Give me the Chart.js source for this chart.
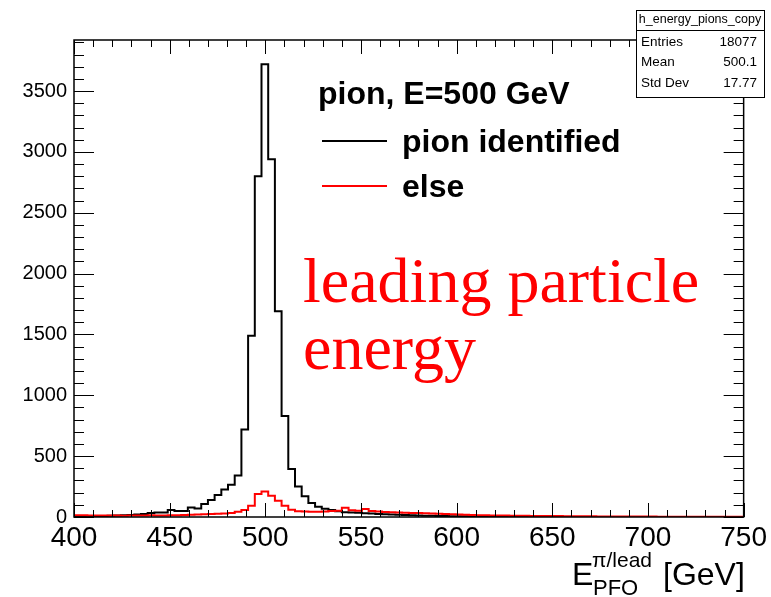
<!DOCTYPE html>
<html>
<head>
<meta charset="utf-8">
<script src="https://cdn.jsdelivr.net/npm/chart.js@4.4.1/dist/chart.umd.min.js"></script>
<style>
html,body{margin:0;padding:0;background:#fff;}
</style>
</head>
<body>
<canvas id="histChart" width="771" height="597"></canvas>
<script>
// binning of h_energy_pions_copy : 100 bins, 400 - 750 GeV
const binLow = 400;
const binWidth = 3.5;
const yMax = 3920;
const yTickValues = [0, 500, 1000, 1500, 2000, 2500, 3000, 3500];
const xTickValues = [400, 450, 500, 550, 600, 650, 700, 750];

// counts per bin
const pionIdentified = [
  3, 4, 5, 6, 8, 10, 12, 14, 16, 20, 24,
  32, 37, 37, 57, 50, 50,
  78, 70, 107, 140, 181, 225, 266,
  342, 720, 1490, 2800, 3720, 2940, 1690, 830, 395,
  250, 170, 115, 85, 68, 58, 48, 40, 38, 35, 30, 28, 25, 22,
  20, 18, 16, 14, 12, 11, 10, 9, 8, 7, 6, 6, 5, 5, 4, 4, 3, 3, 3, 2,
  2, 2, 2, 2, 1, 1, 1, 1, 1, 1, 1, 1, 1, 1, 0, 1, 0, 0, 1, 0,
  0, 0, 0, 1, 0, 0, 0, 0, 0, 0, 0, 0, 0
];

const elseCounts = [
  15, 14, 13, 12, 12, 13, 12, 11, 12, 13, 12, 14, 13, 12, 14, 15,
  16, 18, 20, 22, 24, 26,
  29, 32,
  43, 57, 93, 189, 210, 175, 134, 93, 60,
  48, 45, 43, 43, 45, 50, 52, 75, 55, 52, 65, 50, 45, 42,
  40, 37, 35, 33, 32, 30, 28, 26, 24, 22, 20, 18, 16, 15, 14, 13, 12, 12, 11, 10,
  10, 9, 9, 8, 8, 8, 7, 7, 6, 6, 6, 5, 5, 5, 5, 4, 4, 4, 4, 4,
  3, 3, 3, 3, 3, 3, 3, 3, 3, 3, 3, 3, 3
];

const statRows = [['Entries', '18077'], ['Mean', '500.1'], ['Std Dev', '17.77']];

const sans = '"Liberation Sans", Arial, Helvetica, sans-serif';
const serif = '"Liberation Serif", "Times New Roman", serif';

function toSteps(counts) {
  const pts = counts.map((c, i) => ({x: binLow + i * binWidth, y: c}));
  pts.push({x: binLow + counts.length * binWidth, y: counts[counts.length - 1]});
  return pts;
}

// ROOT-like frame, ticks on all sides, stat box and text
const rootDecor = {
  id: 'rootDecor',
  afterDraw(chart) {
    const ctx = chart.ctx, a = chart.chartArea;
    const xs = chart.scales.x, ys = chart.scales.y;
    ctx.save();
    ctx.strokeStyle = '#000';
    ctx.lineWidth = 1;
    ctx.beginPath();
    for (let v = 400; v <= 750; v += 10) {
      const px = Math.round(xs.getPixelForValue(v)) + 0.5;
      const len = v % 50 === 0 ? 14 : 7;
      ctx.moveTo(px, a.bottom); ctx.lineTo(px, a.bottom - len);
      ctx.moveTo(px, a.top); ctx.lineTo(px, a.top + len);
    }
    for (let v = 0; v <= yMax; v += 100) {
      const py = Math.round(ys.getPixelForValue(v)) + 0.5;
      const len = v % 500 === 0 ? 20 : 10;
      ctx.moveTo(a.left, py); ctx.lineTo(a.left + len, py);
      ctx.moveTo(a.right, py); ctx.lineTo(a.right - len, py);
    }
    ctx.stroke();

    ctx.lineWidth = 1.5;
    ctx.strokeRect(a.left, a.top, a.right - a.left, a.bottom - a.top);

    // stat box
    ctx.fillStyle = '#fff';
    ctx.fillRect(636, 10, 128, 87);
    ctx.lineWidth = 1;
    ctx.strokeRect(636.5, 10.5, 128, 87);
    ctx.beginPath();
    ctx.moveTo(636.5, 30.5); ctx.lineTo(764.5, 30.5);
    ctx.stroke();
    ctx.fillStyle = '#000';
    ctx.textBaseline = 'middle';
    ctx.font = '12.5px ' + sans;
    ctx.textAlign = 'center';
    ctx.fillText('h_energy_pions_copy', 700, 20);
    ctx.font = '13.5px ' + sans;
    statRows.forEach((r, i) => {
      const y = 42 + i * 20.5;
      ctx.textAlign = 'left';
      ctx.fillText(r[0], 641, y);
      ctx.textAlign = 'right';
      ctx.fillText(r[1], 757, y);
    });

    // legend
    ctx.textBaseline = 'alphabetic';
    ctx.textAlign = 'left';
    ctx.font = 'bold 32px ' + sans;
    ctx.fillText('pion, E=500 GeV', 318, 104);
    ctx.fillText('pion identified', 402, 152);
    ctx.fillText('else', 402, 197);
    ctx.lineWidth = 2;
    ctx.strokeStyle = '#000';
    ctx.beginPath(); ctx.moveTo(322, 141); ctx.lineTo(387, 141); ctx.stroke();
    ctx.strokeStyle = '#ff0000';
    ctx.beginPath(); ctx.moveTo(322, 186); ctx.lineTo(387, 186); ctx.stroke();

    // annotation
    ctx.fillStyle = '#ff0000';
    ctx.font = '64px ' + serif;
    ctx.fillText('leading particle', 303, 302);
    ctx.fillText('energy', 303, 369);

    // x axis title
    ctx.fillStyle = '#000';
    ctx.font = '32px ' + sans;
    ctx.fillText('E', 572, 585);
    ctx.font = '21px ' + sans;
    ctx.fillText('\u03c0/lead', 592, 567);
    ctx.font = '22px ' + sans;
    ctx.fillText('PFO', 593, 595);
    ctx.font = '32px ' + sans;
    ctx.fillText('[GeV]', 663, 585);
    ctx.restore();
  }
};

const ctx = document.getElementById('histChart');

const histChart = new Chart(ctx, {
  type: 'line',
  data: {
    datasets: [{
      label: 'pion identified',
      data: toSteps(pionIdentified),
      borderColor: '#000',
      borderWidth: 2,
      pointRadius: 0,
      stepped: true,
      fill: false,
      order: 1
    }, {
      label: 'else',
      data: toSteps(elseCounts),
      borderColor: '#ff0000',
      borderWidth: 2,
      pointRadius: 0,
      stepped: true,
      fill: false,
      order: 0
    }]
  },
  options: {
    responsive: false,
    animation: false,
    layout: {padding: {top: 40, right: 24, left: 0, bottom: 0}},
    plugins: {
      legend: {display: false},
      tooltip: {enabled: false}
    },
    scales: {
      x: {
        type: 'linear',
        min: 400,
        max: 750,
        grid: {display: false, drawTicks: false},
        border: {display: false},
        ticks: {autoSkip: false, maxRotation: 0, color: '#000',
                font: {family: sans, size: 28}, padding: 4,
                callback: v => String(v)},
        afterBuildTicks(s) { s.ticks = xTickValues.map(v => ({value: v})); },
        afterFit(s) { s.height = 80; }
      },
      y: {
        type: 'linear',
        min: 0,
        max: yMax,
        grid: {display: false, drawTicks: false},
        border: {display: false},
        ticks: {autoSkip: false, color: '#000',
                font: {family: sans, size: 20}, padding: 7,
                callback: v => String(v)},
        afterBuildTicks(s) { s.ticks = yTickValues.map(v => ({value: v})); },
        afterFit(s) { s.width = 74; }
      }
    }
  },
  plugins: [rootDecor]
});
</script>
</body>
</html>
